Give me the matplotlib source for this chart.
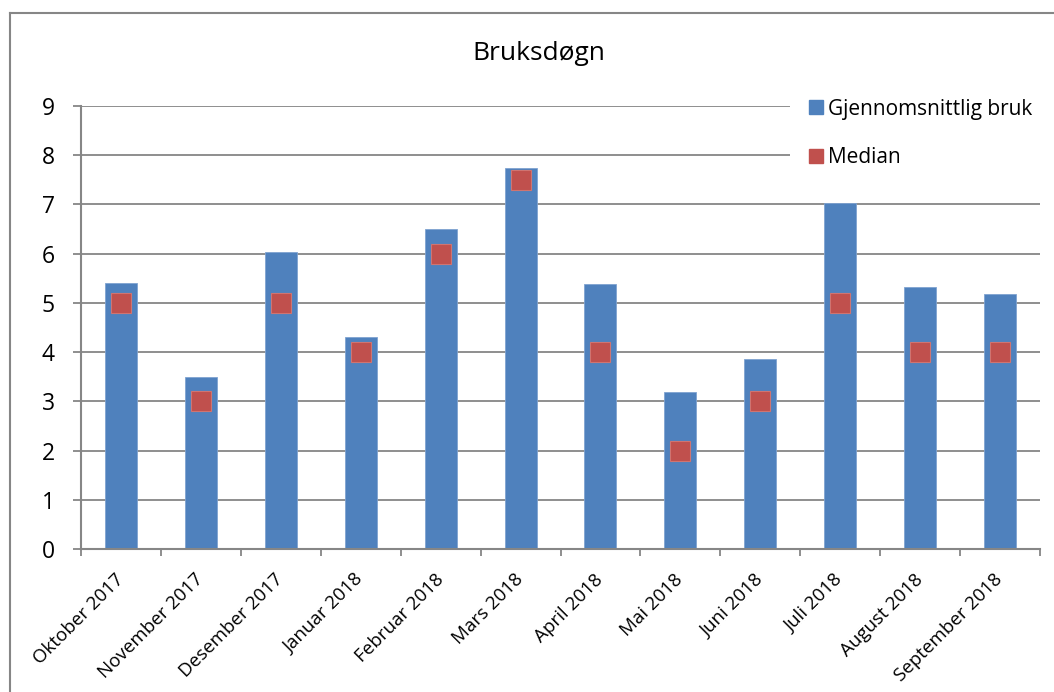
import matplotlib
matplotlib.use("Agg")
import matplotlib.pyplot as plt
import numpy as np
from matplotlib.lines import Line2D

plt.rcParams['font.family'] = ['Open Sans', 'DejaVu Sans']

# data
months = ["Oktober 2017", "November 2017", "Desember 2017", "Januar 2018",
          "Februar 2018", "Mars 2018", "April 2018", "Mai 2018",
          "Juni 2018", "Juli 2018", "August 2018", "September 2018"]
avg_use = [5.41, 3.50, 6.04, 4.30, 6.50, 7.74, 5.39, 3.19, 3.86, 7.03, 5.33, 5.18]
median = [5, 3, 5, 4, 6, 7.5, 4, 2, 3, 5, 4, 4]

blue = "#4F81BD"
red = "#C0504D"
grey = "#868686"

fig = plt.figure(figsize=(10.54, 6.92), dpi=100)
ax = fig.add_axes([81 / 1054, 1 - 549 / 692, (1040 - 81) / 1054, (549 - 106) / 692])

x = np.arange(len(months))
ax.bar(x, avg_use, width=0.4, color=blue, edgecolor="#7fa3d1", linewidth=0.6, zorder=2)
ax.plot(x, median, linestyle="none", marker="s", markersize=14.5,
        markerfacecolor=red, markeredgecolor="#cf7471", markeredgewidth=0.8, zorder=3)

ax.set_xlim(-0.5, len(months) - 0.5)
ax.set_ylim(0, 9)
ax.set_yticks(range(0, 10))
ax.yaxis.grid(True, color=grey, linewidth=1.3, zorder=0)
ax.set_axisbelow(True)

# category labels in the middle, tick marks between categories
ax.set_xticks(x)
ax.set_xticklabels(months, rotation=45, ha="right", va="center",
                   rotation_mode="anchor", fontsize=13.5)
ax.set_xticks(np.arange(-0.5, len(months)), minor=True)
ax.tick_params(axis="x", which="major", length=0, pad=20)
ax.tick_params(axis="x", which="minor", length=5, width=1.3, color=grey, direction="out")
ax.tick_params(axis="y", length=6, width=1.3, color=grey, pad=13, labelsize=16.5)

for side in ["top", "right"]:
    ax.spines[side].set_visible(False)
for side in ["left", "bottom"]:
    ax.spines[side].set_color(grey)
    ax.spines[side].set_linewidth(1.5)

fig.text(539 / 1054, 1 - 54 / 692, "Bruksdøgn", ha="center", va="center", fontsize=19)

# legend sits on a white box that hides the top gridlines
handles = [Line2D([], [], linestyle="none", marker="s", markersize=10, color=blue),
           Line2D([], [], linestyle="none", marker="s", markersize=10, color=red)]
leg = ax.legend(handles, ["Gjennomsnittlig bruk", "Median"], loc="upper left",
                bbox_to_anchor=(790 / 1054, 1 - 80 / 692, (1040 - 790) / 1054, 0),
                bbox_transform=fig.transFigure, mode="expand",
                fontsize=15, frameon=True, facecolor="white", edgecolor="none",
                framealpha=1, fancybox=False, handlelength=0.7, handletextpad=0.2,
                labelspacing=1.3, borderpad=0.9, borderaxespad=0)

# outer chart border (left and top visible)
fig.add_artist(Line2D([10 / 1054, 10 / 1054], [0, 1 - 13 / 692], color=grey, linewidth=1.5))
fig.add_artist(Line2D([10 / 1054, 1], [1 - 13 / 692, 1 - 13 / 692], color=grey, linewidth=1.5))

fig.savefig("out.png", dpi=100)
